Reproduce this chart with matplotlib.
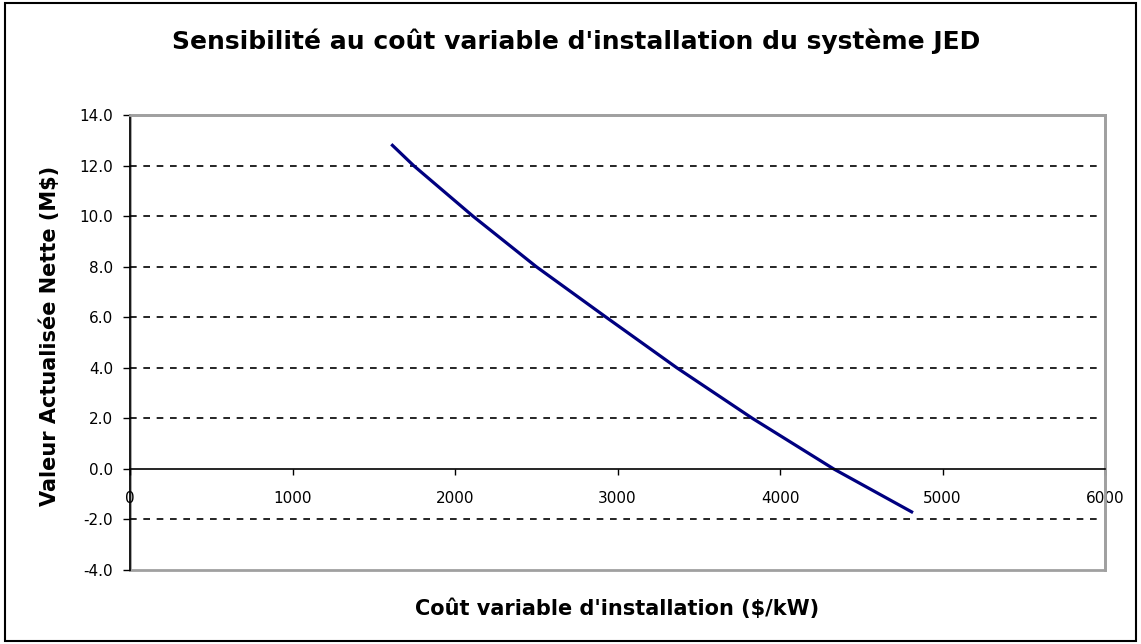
import matplotlib
matplotlib.use("Agg")
import matplotlib.pyplot as plt
from matplotlib.patches import Rectangle

# valeurs
cout = [1615, 1745, 2110, 2500, 2930, 3365, 3830, 4330, 4810]
van = [12.8, 12.0, 10.0, 8.0, 6.0, 4.0, 2.0, 0.0, -1.7]
yticks = [-4, -2, 0, 2, 4, 6, 8, 10, 12, 14]
xticks = [0, 1000, 2000, 3000, 4000, 5000, 6000]
grille = [-2, 2, 4, 6, 8, 10, 12]

plt.rcParams['font.family'] = ['DejaVu Sans']

fig = plt.figure(figsize=(11.41, 6.44), dpi=100)
ax = fig.add_axes([130/1141, 1 - 570/644, 975/1141, 455/644])

# cadre de la figure
fig.patches.append(Rectangle((0.004, 0.004), 0.992, 0.991, transform=fig.transFigure,
                             fill=False, edgecolor='black', linewidth=1.5))

for g in grille:
    ax.axhline(g, xmin=0, xmax=0.993, color='black', linestyle=(0, (4, 4)), linewidth=1.2)

ax.plot(cout, van, color='#000080', linewidth=2.3)

ax.set_xlim(0, 6000)
ax.set_ylim(-4, 14)
ax.set_yticks(yticks)
ax.set_yticklabels(['%.1f' % v for v in yticks])
ax.set_xticks(xticks)
ax.set_xticklabels([str(v) for v in xticks])

ax.spines['bottom'].set_position(('data', 0))
ax.spines['bottom'].set_color('black')
ax.spines['left'].set_color('black')
ax.spines['left'].set_linewidth(1.2)
ax.spines['bottom'].set_linewidth(1.2)
for s in ['top', 'right']:
    ax.spines[s].set_color('#a0a0a0')
    ax.spines[s].set_linewidth(2)
ax.add_patch(Rectangle((0, 0), 1, 1, transform=ax.transAxes, fill=False,
                       edgecolor='#a0a0a0', linewidth=2, clip_on=False, zorder=0))

ax.tick_params(axis='y', direction='out', length=5, width=1, pad=7, labelsize=11, colors='black')
ax.tick_params(axis='x', direction='out', length=4, width=1, pad=12, labelsize=11, colors='black')

ax.set_ylabel('Valeur Actualisée Nette (M$)', fontsize=15, fontweight='bold')
ax.yaxis.set_label_coords(-0.072, 0.515)
fig.text(617/1141, 1 - 609/644, "Coût variable d'installation ($/kW)", fontsize=15,
         fontweight='bold', ha='center', va='center')
fig.text(576/1141, 1 - 41/644, "Sensibilité au coût variable d'installation du système JED",
         fontsize=18, fontweight='bold', ha='center', va='center')

fig.savefig('out.png', dpi=100)
